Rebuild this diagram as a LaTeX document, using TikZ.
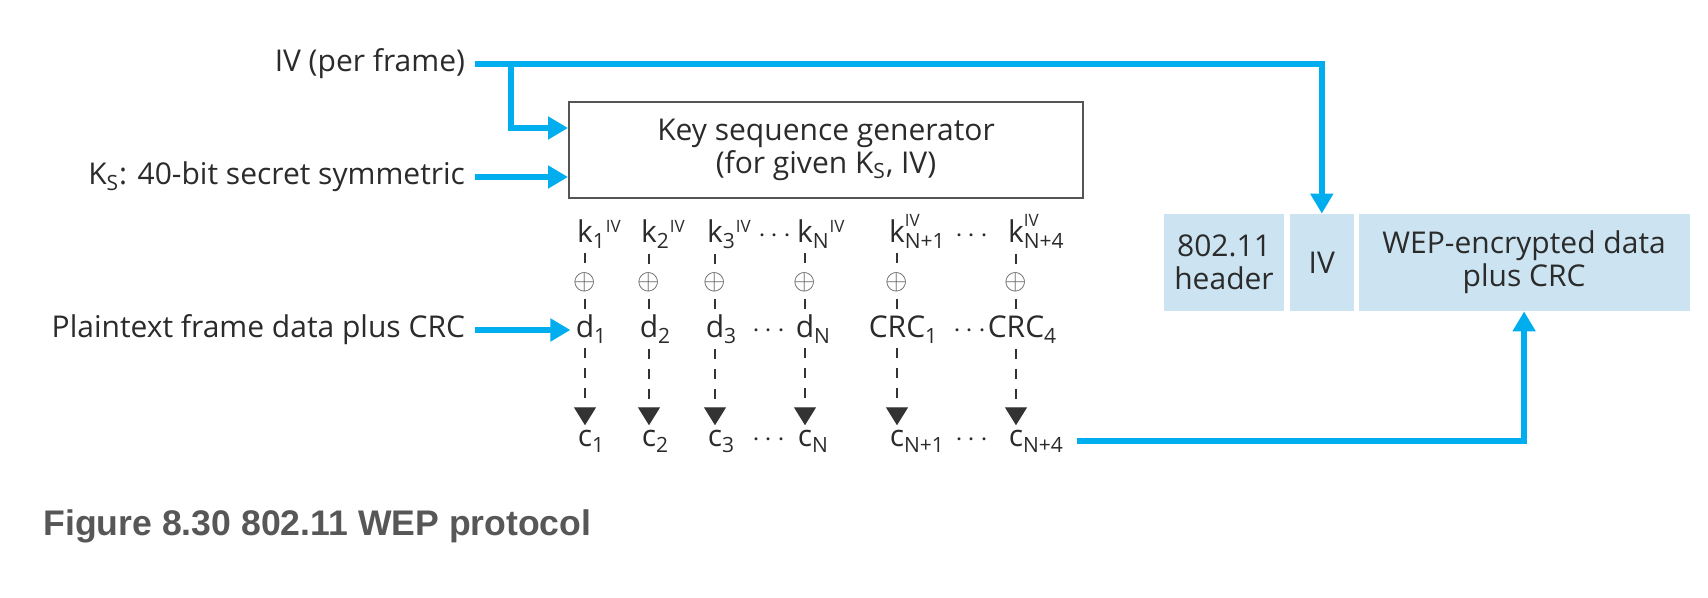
\documentclass[tikz,border=0pt]{standalone}
\usepackage{fontspec}
\setmainfont{Open Sans}
\newfontfamily\capfont{Liberation Sans}
\usetikzlibrary{arrows.meta,positioning,calc}
\definecolor{WEPBlue}{HTML}{00AEEF}
\definecolor{CellBlue}{HTML}{CCE4F1}
\definecolor{BoxGray}{HTML}{555555}
\definecolor{CapGray}{HTML}{575757}
\definecolor{TextGray}{HTML}{2B2B2B}
\newcommand\ivsup{\textsuperscript{\fontsize{8.5}{9}\selectfont IV}}

\begin{document}
\begin{tikzpicture}[x=0.5pt,y=-0.5pt,
    every node/.style={font=\fontsize{15}{16.5}\selectfont,text=TextGray},
    lbl/.style={anchor=east,inner sep=0pt,outer sep=5pt},
    col/.style={anchor=base,inner sep=2.5pt},
    feed/.style={draw=WEPBlue,line width=3pt,-{Triangle[length=10pt,width=11pt]}},
    keyline/.style={draw=black!80,line width=0.7pt,dash pattern=on 5pt off 5pt},
    cell/.style={fill=CellBlue,minimum height=48.5pt,inner sep=0pt,align=center}]
  \useasboundingbox (0,0) rectangle (1708,598);
  \node[lbl] (iv) at (475,64) {IV (per frame)};
  \node[lbl] (ks) at (475,177) {K\textsubscript{S}: 40-bit secret symmetric};
  \node[lbl] (pt) at (475,330) {Plaintext frame data plus CRC};
  \node[draw=BoxGray,line width=1pt,minimum width=257pt,minimum height=48pt,align=center,anchor=north west] (ksg) at (568,101) {Key sequence generator\\(for given K\textsubscript{S}, IV)};

  \node[col] (k1) at (585,243) {k\rlap{\textsubscript{1}\ivsup}};
  \node[col] (k2) at (649,243) {k\rlap{\textsubscript{2}\ivsup}};
  \node[col] (k3) at (715,243) {k\rlap{\textsubscript{3}\ivsup}};
  \node[col] (k4) at (805,243) {k\rlap{\textsubscript{N}\ivsup}};
  \node[col] (k5) at (897,243) {k\rlap{\raisebox{0.35ex}{\ivsup}}\rlap{\textsubscript{N+1}}};
  \node[col] (k6) at (1016,243) {k\rlap{\raisebox{0.35ex}{\ivsup}}\rlap{\textsubscript{N+4}}};
  \node[col] (kdots1) at (775,243) {$\cdots$};
  \node[col] (kdots2) at (972,243) {$\cdots$};

  \node[text=BoxGray] (x1) at (585,282) {$\oplus$};
  \node[text=BoxGray] (x2) at (649,282) {$\oplus$};
  \node[text=BoxGray] (x3) at (715,282) {$\oplus$};
  \node[text=BoxGray] (x4) at (805,282) {$\oplus$};
  \node[text=BoxGray] (x5) at (897,282) {$\oplus$};
  \node[text=BoxGray] (x6) at (1016,282) {$\oplus$};

  \node[col] (d1) at (585,338) {d\rlap{\textsubscript{1}}};
  \node[col] (d2) at (649,338) {d\rlap{\textsubscript{2}}};
  \node[col] (d3) at (715,338) {d\rlap{\textsubscript{3}}};
  \node[col] (d4) at (805,338) {d\rlap{\textsubscript{N}}};
  \node[col] (d5) at (897,338) {CRC\rlap{\textsubscript{1}}};
  \node[col] (d6) at (1016,338) {CRC\rlap{\textsubscript{4}}};
  \node[col] (ddots1) at (769,338) {$\cdots$};
  \node[col] (ddots2) at (970,338) {$\cdots$};

  \node[col] (c1) at (585,447) {c\rlap{\textsubscript{1}}};
  \node[col] (c2) at (649,447) {c\rlap{\textsubscript{2}}};
  \node[col] (c3) at (715,447) {c\rlap{\textsubscript{3}}};
  \node[col] (c4) at (805,447) {c\rlap{\textsubscript{N}}};
  \node[col] (c5) at (897,447) {c\rlap{\textsubscript{N+1}}};
  \node[col] (c6) at (1016,447) {c\rlap{\textsubscript{N+4}}};
  \node[col] (cdots1) at (769,447) {$\cdots$};
  \node[col] (cdots2) at (972,447) {$\cdots$};

  \node[cell,minimum width=60pt] (hdr) at (1224,262.5) {802.11\\header};
  \node[cell,minimum width=32pt,right=2.5pt of hdr] (ivc) {IV};
  \node[cell,minimum width=165.5pt,right=2pt of ivc] (data) {WEP-encrypted data\\plus CRC};

  \node[anchor=base west,inner sep=0pt,font=\capfont\bfseries\fontsize{17.8}{20}\selectfont,text=CapGray] (cap) at (43,535) {Figure 8.30 802.11 WEP protocol};

  \coordinate (br) at ($(iv.east)+(36,0)$);
  \draw[feed] (iv.east) -| (ivc.north);
  \draw[feed] (br) |- ([yshift=11pt]ksg.west);
  \draw[feed] (ks.east) -- (ks.east -| ksg.west);
  \draw[feed] (pt.east) -- (pt.east -| d1.west);
  \draw[feed] ([xshift=24pt]c6.east) -| (data.south);

  \draw[keyline] (k1) -- (x1) -- (d1);
  \draw[keyline] (k2) -- (x2) -- (d2);
  \draw[keyline] (k3) -- (x3) -- (d3);
  \draw[keyline] (k4) -- (x4) -- (d4);
  \draw[keyline] (k5) -- (x5) -- (d5);
  \draw[keyline] (k6) -- (x6) -- (d6);
  \draw[keyline,-{Triangle[length=9pt,width=11pt]}] (d1) -- (c1);
  \draw[keyline,-{Triangle[length=9pt,width=11pt]}] (d2) -- (c2);
  \draw[keyline,-{Triangle[length=9pt,width=11pt]}] (d3) -- (c3);
  \draw[keyline,-{Triangle[length=9pt,width=11pt]}] (d4) -- (c4);
  \draw[keyline,-{Triangle[length=9pt,width=11pt]}] (d5) -- (c5);
  \draw[keyline,-{Triangle[length=9pt,width=11pt]}] (d6) -- (c6);
\end{tikzpicture}
\end{document}
